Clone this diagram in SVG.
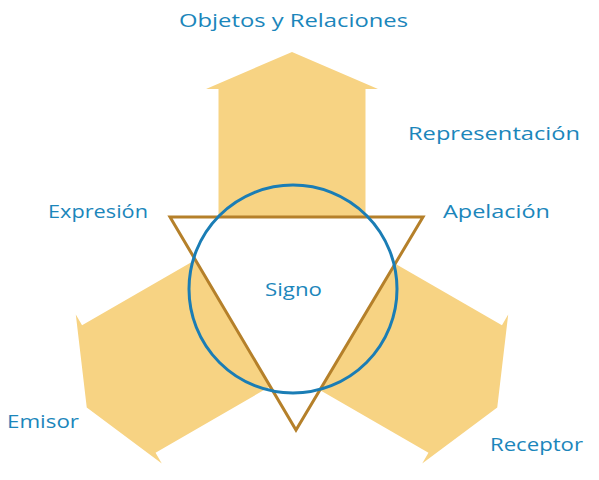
<svg xmlns="http://www.w3.org/2000/svg" width="599" height="480" viewBox="0 0 599 480">
<style>
.arrow{fill:#f7d383;stroke:none}
.lbl{font-family:"Open Sans","DejaVu Sans",sans-serif;font-size:19px;fill:#1b86bb}
</style>
<defs>
<polygon id="arr" class="arrow" points="292,52 378,89 365.5,89 365.5,289 218.5,289 218.5,89 206,89"/>
</defs>
<g id="connectors">
<use id="arrow-objetos" href="#arr"/>
<use id="arrow-emisor" href="#arr" transform="rotate(-120 292 289)"/>
<use id="arrow-receptor" href="#arr" transform="rotate(120 292 289)"/>
</g>
<g id="signo">
<polygon points="170,217 423,217 296,430" fill="#ffffff" stroke="#b5802a" stroke-width="3" stroke-linejoin="miter"/>
<circle cx="293" cy="289" r="104" fill="none" stroke="#1a7db5" stroke-width="3"/>
<text class="lbl" x="265" y="296" textLength="57" lengthAdjust="spacingAndGlyphs">Signo</text>
</g>
<g id="objetos"><text class="lbl" x="179" y="27" textLength="229" lengthAdjust="spacingAndGlyphs">Objetos y Relaciones</text></g>
<g id="representacion"><text class="lbl" x="408" y="140" textLength="172" lengthAdjust="spacingAndGlyphs">Representación</text></g>
<g id="expresion"><text class="lbl" x="48" y="218" textLength="100" lengthAdjust="spacingAndGlyphs">Expresión</text></g>
<g id="apelacion"><text class="lbl" x="443" y="218" textLength="107" lengthAdjust="spacingAndGlyphs">Apelación</text></g>
<g id="emisor"><text class="lbl" x="7" y="428" textLength="72" lengthAdjust="spacingAndGlyphs">Emisor</text></g>
<g id="receptor"><text class="lbl" x="490" y="451" textLength="93" lengthAdjust="spacingAndGlyphs">Receptor</text></g>
</svg>
